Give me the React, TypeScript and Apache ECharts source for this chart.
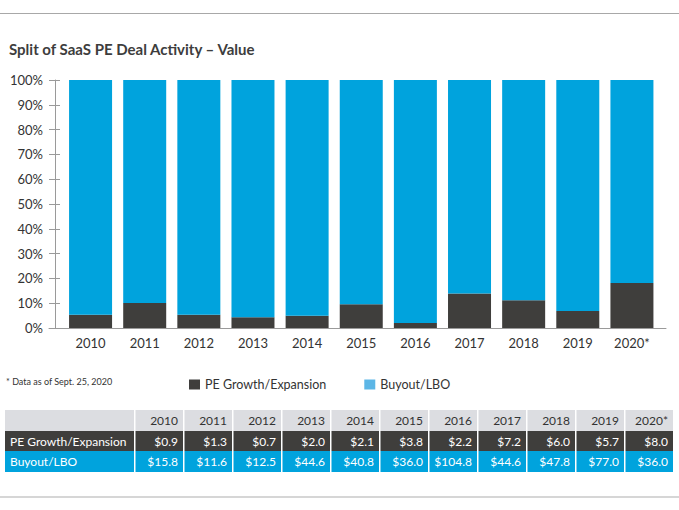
import { useEffect, useRef } from 'react';
import * as echarts from 'echarts';

const years = ['2010', '2011', '2012', '2013', '2014', '2015', '2016', '2017', '2018', '2019', '2020*'];
// deal value, $B
const growthValues = [0.9, 1.3, 0.7, 2.0, 2.1, 3.8, 2.2, 7.2, 6.0, 5.7, 8.0];
const buyoutValues = [15.8, 11.6, 12.5, 44.6, 40.8, 36.0, 104.8, 44.6, 47.8, 77.0, 36.0];
const seriesNames = ['PE Growth/Expansion', 'Buyout/LBO'];

const DARK = '#3f3e3c';
const BLUE = '#00a3dd';
const LEGEND_BLUE = '#5cb6e6';
const HEADER_GRAY = '#dcdde1';
const AXIS_GRAY = '#9a9a9a';
const FONT = 'Lato, sans-serif';

const fmt = (v: number) => '$' + v.toFixed(1);

// share of each year's total, in percent
const growthShare = growthValues.map((g, i) => (g / (g + buyoutValues[i])) * 100);
const buyoutShare = growthShare.map((s) => 100 - s);

const buildTable = () => {
    const left = 5;
    const labelW = 129;
    const colX0 = 134;
    const colW = 49;
    const rows = [
        { label: '', cells: years, fill: HEADER_GRAY, color: '#333', y: 410, h: 21 },
        { label: seriesNames[0], cells: growthValues.map(fmt), fill: DARK, color: '#fff', y: 431, h: 20 },
        { label: seriesNames[1], cells: buyoutValues.map(fmt), fill: BLUE, color: '#fff', y: 451, h: 21 },
    ];
    const els: any[] = [];
    rows.forEach((r) => {
        els.push({
            type: 'rect',
            silent: true,
            shape: { x: left, y: r.y, width: labelW, height: r.h },
            style: { fill: r.fill },
        });
        if (r.label) {
            els.push({
                type: 'text',
                silent: true,
                x: left + 5,
                y: r.y + r.h / 2,
                style: { text: r.label, fill: r.color, font: `12px ${FONT}`, textVerticalAlign: 'middle' },
            });
        }
        r.cells.forEach((c, i) => {
            const x = colX0 + i * colW + 1.5;
            els.push({
                type: 'rect',
                silent: true,
                shape: { x, y: r.y, width: colW - 1.5, height: r.h },
                style: { fill: r.fill },
            });
            els.push({
                type: 'text',
                silent: true,
                x: x + colW - 1.5 - 5,
                y: r.y + r.h / 2,
                style: {
                    text: c,
                    fill: r.color,
                    font: `12px ${FONT}`,
                    textAlign: 'right',
                    textVerticalAlign: 'middle',
                },
            });
        });
    });
    return els;
};

const App = () => {
    const chartRef = useRef<HTMLDivElement>(null);

    useEffect(() => {
        document.body.style.margin = '0';
        const myChart = echarts.init(chartRef.current, null, { renderer: 'svg' });

        myChart.setOption({
            animation: false,
            backgroundColor: '#fff',
            title: {
                text: 'Split of SaaS PE Deal Activity – Value',
                left: 4,
                top: 36,
                textStyle: { fontFamily: FONT, fontSize: 15, fontWeight: 'bold', color: '#3d3d3d' },
            },
            legend: {
                left: 184,
                top: 373,
                icon: 'rect',
                itemWidth: 11,
                itemHeight: 10,
                itemGap: 38,
                textStyle: { fontFamily: FONT, fontSize: 12.5, color: '#333' },
                data: [
                    { name: seriesNames[0], itemStyle: { color: DARK } },
                    { name: seriesNames[1], itemStyle: { color: LEGEND_BLUE } },
                ],
            },
            grid: [
                { left: 63.5, right: 20, top: 80, bottom: 182 },
                // only carries the base line, which runs a little wider than the bars
                { left: 49, right: 13, top: 80, bottom: 182 },
            ],
            xAxis: [
                {
                    type: 'category',
                    gridIndex: 0,
                    data: years,
                    axisLine: { show: false },
                    axisTick: { show: false },
                    axisLabel: { margin: 8, fontFamily: FONT, fontSize: 13, color: '#333' },
                },
                {
                    type: 'value',
                    gridIndex: 1,
                    axisLine: { show: true, lineStyle: { color: AXIS_GRAY, width: 1 } },
                    axisTick: { show: false },
                    axisLabel: { show: false },
                    splitLine: { show: false },
                },
            ],
            yAxis: [
                {
                    type: 'value',
                    gridIndex: 0,
                    position: 'left',
                    min: 0,
                    max: 100,
                    interval: 10,
                    offset: 8.5,
                    axisLine: { show: true, lineStyle: { color: AXIS_GRAY } },
                    axisTick: { show: true, length: 6, lineStyle: { color: AXIS_GRAY } },
                    axisLabel: {
                        formatter: '{value}%',
                        margin: 12,
                        fontFamily: FONT,
                        fontSize: 13,
                        color: '#333',
                    },
                    splitLine: { show: false },
                },
                {
                    type: 'value',
                    gridIndex: 0,
                    position: 'left',
                    min: 0,
                    max: 100,
                    interval: 10,
                    offset: 8.5,
                    axisLine: { show: false },
                    axisTick: { show: true, inside: true, length: 5, lineStyle: { color: AXIS_GRAY } },
                    axisLabel: { show: false },
                    splitLine: { show: false },
                },
                { type: 'value', gridIndex: 1, show: false },
            ],
            series: [
                {
                    name: seriesNames[0],
                    type: 'bar',
                    stack: 'total',
                    barWidth: 43,
                    itemStyle: { color: DARK },
                    data: growthShare,
                },
                {
                    name: seriesNames[1],
                    type: 'bar',
                    stack: 'total',
                    barWidth: 43,
                    itemStyle: { color: BLUE },
                    data: buyoutShare,
                },
            ],
            graphic: [
                {
                    type: 'line',
                    silent: true,
                    shape: { x1: 0, y1: 13.5, x2: 679, y2: 13.5 },
                    style: { stroke: '#a8a8a8', lineWidth: 1 },
                },
                {
                    type: 'line',
                    silent: true,
                    shape: { x1: 0, y1: 497, x2: 679, y2: 497 },
                    style: { stroke: '#d6d6d6', lineWidth: 2 },
                },
                {
                    type: 'text',
                    silent: true,
                    x: 6,
                    y: 381,
                    style: {
                        text: '* Data as of Sept. 25, 2020',
                        fill: '#333',
                        font: `9px ${FONT}`,
                        textVerticalAlign: 'middle',
                    },
                },
                ...buildTable(),
            ],
        });

        return () => {
            myChart.dispose();
        };
    }, []);

    return <div ref={chartRef} style={{ width: '679px', height: '510px' }} />;
};

export default App;
